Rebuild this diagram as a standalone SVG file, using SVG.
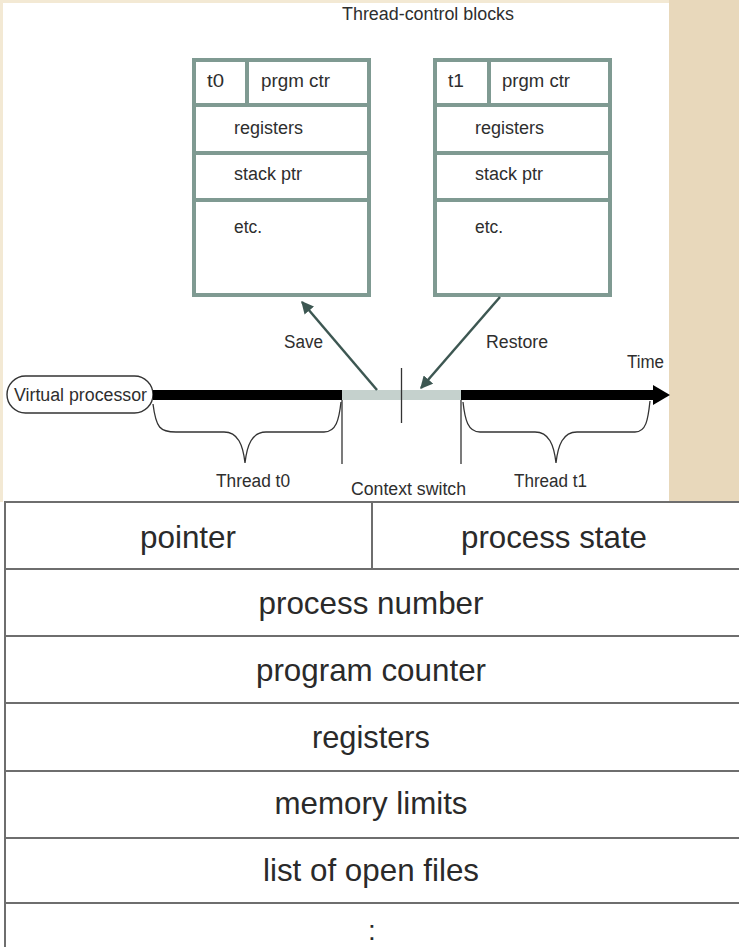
<svg xmlns="http://www.w3.org/2000/svg" width="739" height="947" viewBox="0 0 739 947">
<defs>
<style>
.t{font-family:"Liberation Sans",Arial,sans-serif;fill:#2e2e2e;font-size:18px}
.b{font-family:"Liberation Sans",Arial,sans-serif;fill:#2a2a2a;font-size:32px;text-anchor:middle}
.box{fill:#ffffff;stroke:#7f9a92;stroke-width:4}
.cell{stroke:#7f9a92;stroke-width:4;fill:none}
.conn{stroke:#3d5752;stroke-width:2.5;fill:none}
.thin{stroke:#333;stroke-width:1.3;fill:none}
.tab{stroke:#6e6e6e;stroke-width:2;fill:none}
</style>
<marker id="ah" viewBox="0 0 10 10" refX="9" refY="5" markerWidth="5" markerHeight="5" orient="auto" markerUnits="strokeWidth">
<path d="M0,0 L10,5 L0,10 z" fill="#3d5752"/>
</marker>
</defs>
<rect x="0" y="0" width="739" height="947" fill="#ffffff"/>
<rect x="0" y="0" width="739" height="3" fill="#f3e9d4"/>
<rect x="0" y="0" width="3" height="502" fill="#f3e9d4"/>
<rect x="669" y="0" width="70" height="502" fill="#e8d8bb"/>

<text class="t" x="342" y="20" textLength="172" lengthAdjust="spacingAndGlyphs">Thread-control blocks</text>

<g id="tcb0">
<rect class="box" x="194" y="60" width="175" height="235"/>
<line class="cell" x1="194" y1="105" x2="369" y2="105"/>
<line class="cell" x1="194" y1="153" x2="369" y2="153"/>
<line class="cell" x1="194" y1="200" x2="369" y2="200"/>
<line class="cell" x1="247" y1="60" x2="247" y2="105"/>
<text class="t" x="207" y="87" textLength="17" lengthAdjust="spacingAndGlyphs">t0</text>
<text class="t" x="261" y="87" textLength="69" lengthAdjust="spacingAndGlyphs">prgm ctr</text>
<text class="t" x="234" y="134" textLength="69" lengthAdjust="spacingAndGlyphs">registers</text>
<text class="t" x="234" y="180" textLength="68" lengthAdjust="spacingAndGlyphs">stack ptr</text>
<text class="t" x="234" y="233" textLength="28" lengthAdjust="spacingAndGlyphs">etc.</text>
</g>

<g id="tcb1">
<rect class="box" x="435" y="60" width="175" height="235"/>
<line class="cell" x1="435" y1="105" x2="610" y2="105"/>
<line class="cell" x1="435" y1="153" x2="610" y2="153"/>
<line class="cell" x1="435" y1="200" x2="610" y2="200"/>
<line class="cell" x1="489" y1="60" x2="489" y2="105"/>
<text class="t" x="448" y="87" textLength="16" lengthAdjust="spacingAndGlyphs">t1</text>
<text class="t" x="502" y="87" textLength="68" lengthAdjust="spacingAndGlyphs">prgm ctr</text>
<text class="t" x="475" y="134" textLength="69" lengthAdjust="spacingAndGlyphs">registers</text>
<text class="t" x="475" y="180" textLength="68" lengthAdjust="spacingAndGlyphs">stack ptr</text>
<text class="t" x="475" y="233" textLength="28" lengthAdjust="spacingAndGlyphs">etc.</text>
</g>

<g id="vproc">
<rect x="7" y="376" width="146" height="37" rx="18.5" ry="18.5" fill="#ffffff" stroke="#333" stroke-width="1.4"/>
<text class="t" x="14" y="401" textLength="133" lengthAdjust="spacingAndGlyphs">Virtual processor</text>
</g>

<g id="timeline">
<rect x="153" y="390" width="189" height="10" fill="#000"/>
<rect x="342" y="390" width="119" height="10" fill="#c5d1cd"/>
<rect x="461" y="390" width="194" height="10" fill="#000"/>
<path d="M653,385 L670,395 L653,405 z" fill="#000"/>
<line class="thin" x1="401.5" y1="368" x2="401.5" y2="423"/>
<text class="t" x="627" y="368" textLength="37" lengthAdjust="spacingAndGlyphs">Time</text>
</g>

<g id="connectors">
<line class="conn" x1="377" y1="390" x2="302" y2="302" marker-end="url(#ah)"/>
<line class="conn" x1="500" y1="297" x2="421" y2="388" marker-end="url(#ah)"/>
<line class="thin" x1="342" y1="400" x2="342" y2="464"/>
<line class="thin" x1="461" y1="400" x2="461" y2="464"/>
<path class="thin" d="M153,404 C156,428 160,432 176,432 L224,432 C238,432 243,445 245,463 C247,445 252,432 266,432 L324,432 C336,432 339,420 341,402"/>
<path class="thin" d="M463,402 C465,420 468,432 480,432 L535,432 C549,432 554,445 556,463 C558,445 563,432 577,432 L635,432 C646,432 648,420 650,401"/>
</g>

<text class="t" x="284" y="348" textLength="39" lengthAdjust="spacingAndGlyphs">Save</text>
<text class="t" x="486" y="348" textLength="62" lengthAdjust="spacingAndGlyphs">Restore</text>
<text class="t" x="216" y="487" textLength="74" lengthAdjust="spacingAndGlyphs">Thread t0</text>
<text class="t" x="351" y="495" textLength="115" lengthAdjust="spacingAndGlyphs">Context switch</text>
<text class="t" x="514" y="487" textLength="73" lengthAdjust="spacingAndGlyphs">Thread t1</text>

<g id="pcb">
<rect x="5" y="502" width="740" height="460" fill="#ffffff" stroke="#6e6e6e" stroke-width="2"/>
<line class="tab" x1="5" y1="569" x2="739" y2="569"/>
<line class="tab" x1="5" y1="636" x2="739" y2="636"/>
<line class="tab" x1="5" y1="703" x2="739" y2="703"/>
<line class="tab" x1="5" y1="771" x2="739" y2="771"/>
<line class="tab" x1="5" y1="838" x2="739" y2="838"/>
<line class="tab" x1="5" y1="903" x2="739" y2="903"/>
<line class="tab" x1="372" y1="502" x2="372" y2="569"/>
<text class="b" x="188" y="548" textLength="96" lengthAdjust="spacingAndGlyphs">pointer</text>
<text class="b" x="554" y="548" textLength="186" lengthAdjust="spacingAndGlyphs">process state</text>
<text class="b" x="371" y="614" textLength="225" lengthAdjust="spacingAndGlyphs">process number</text>
<text class="b" x="371" y="681" textLength="230" lengthAdjust="spacingAndGlyphs">program counter</text>
<text class="b" x="371" y="748" textLength="118" lengthAdjust="spacingAndGlyphs">registers</text>
<text class="b" x="371" y="814" textLength="193" lengthAdjust="spacingAndGlyphs">memory limits</text>
<text class="b" x="371" y="881" textLength="216" lengthAdjust="spacingAndGlyphs">list of open files</text>
<text class="b" x="372" y="940" style="font-size:28px">:</text>
</g>
</svg>
